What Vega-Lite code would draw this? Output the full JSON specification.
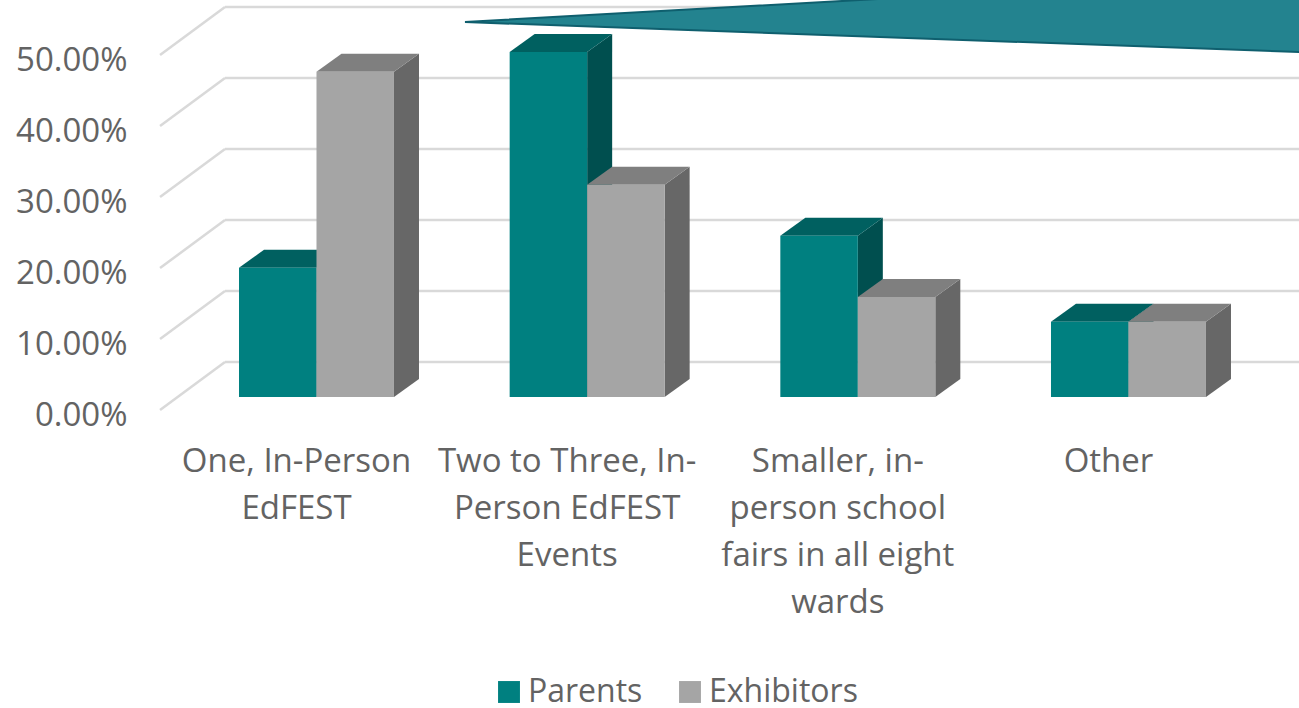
{
"$schema":"https://vega.github.io/schema/vega-lite/v6.json",
"width":1299,"height":708,
"autosize":{"type":"none"},
"padding":0,
"background":"white",
"config":{"view":{"stroke":null},"font":"Open Sans"},
"datasets":{
 "bars":[
  {"category":"One, In-Person EdFEST","idx":0,"series":"Parents","value":0.182},
  {"category":"One, In-Person EdFEST","idx":0,"series":"Exhibitors","value":0.458},
  {"category":"Two to Three, In-Person EdFEST Events","idx":1,"series":"Parents","value":0.486},
  {"category":"Two to Three, In-Person EdFEST Events","idx":1,"series":"Exhibitors","value":0.299},
  {"category":"Smaller, in-person school fairs in all eight wards","idx":2,"series":"Parents","value":0.227},
  {"category":"Smaller, in-person school fairs in all eight wards","idx":2,"series":"Exhibitors","value":0.141},
  {"category":"Other","idx":3,"series":"Parents","value":0.106},
  {"category":"Other","idx":3,"series":"Exhibitors","value":0.106}
 ],
 "ticks":[{"v":0},{"v":0.1},{"v":0.2},{"v":0.3},{"v":0.4},{"v":0.5}],
 "labels":[
  {"idx":0,"lines":["One, In-Person","EdFEST"]},
  {"idx":1,"lines":["Two to Three, In-","Person EdFEST","Events"]},
  {"idx":2,"lines":["Smaller, in-","person school","fairs in all eight","wards"]},
  {"idx":3,"lines":["Other"]}
 ],
 "callout":[
  {"px":0.5486,"top":0.5282,"bottom":0.5282},
  {"px":3.8,"top":0.5973,"bottom":0.4836}
 ]
},
"data":{"name":"bars"},
"layer":[
 {
  "data":{"name":"ticks"},
  "transform":[{"calculate":"datum.v+0.0493","as":"back"},{"calculate":"datum.v-0.0183","as":"front"},{"calculate":"-0.338","as":"x0"},{"calculate":"-0.578","as":"xf"},{"calculate":"3.63","as":"xe"}],
  "layer":[
   {"mark":{"type":"rule","color":"#d9d9d9","strokeWidth":2.5},
    "encoding":{"x":{"field":"x0","type":"quantitative","scale":{"domain":[-1.1693,3.63],"nice":false,"zero":false},"axis":null},"x2":{"field":"xe"},
      "y":{"field":"back","type":"quantitative","scale":{"domain":[-0.438,0.5592],"nice":false,"zero":false},
        "axis":{"values":[0,0.1,0.2,0.3,0.4,0.5],"format":".2%","orient":"left","offset":-127,"domain":false,"ticks":false,"grid":false,"title":null,"labelPadding":0,"labelFontSize":33,"labelColor":"#636363","labelOffset":18,"labelFont":"Open Sans"}}}},
   {"mark":{"type":"rule","color":"#d9d9d9","strokeWidth":2.5},
    "encoding":{"x":{"field":"xf","type":"quantitative"},"x2":{"field":"x0"},"y":{"field":"front","type":"quantitative"},"y2":{"field":"back"}}}
  ]
 },
 {
  "transform":[
   {"calculate":"datum.series==='Parents'?datum.idx-0.2863:datum.idx","as":"xl"},
   {"calculate":"datum.xl+0.2863","as":"xr"},
   {"calculate":"[{f:'side',x:datum.xr,y:datum.value,y2:0},{f:'side',x:datum.xr+0.0924,y:datum.value+0.02535,y2:0.02535},{f:'top',x:datum.xl,y:datum.value,y2:datum.value},{f:'top',x:datum.xl+0.0924,y:datum.value+0.02535,y2:datum.value},{f:'top',x:datum.xr,y:datum.value+0.02535,y2:datum.value},{f:'top',x:datum.xr+0.0924,y:datum.value+0.02535,y2:datum.value+0.02535}]","as":"verts"},
   {"flatten":["verts"]},
   {"calculate":"datum.verts.f","as":"f"},
   {"calculate":"datum.verts.x","as":"vx"},
   {"calculate":"datum.verts.y","as":"vy"},
   {"calculate":"datum.verts.y2","as":"vy2"}
  ],
  "mark":{"type":"area","interpolate":"linear"},
  "encoding":{
   "x":{"field":"vx","type":"quantitative"},
   "y":{"field":"vy","type":"quantitative"},
   "y2":{"field":"vy2"},
   "detail":[{"field":"category"},{"field":"series"},{"field":"f"}],
   "color":{"condition":[
     {"test":"datum.f==='side'&&datum.series==='Parents'","value":"#004f4f"},
     {"test":"datum.f==='top'&&datum.series==='Parents'","value":"#006060"},
     {"test":"datum.f==='side'&&datum.series==='Exhibitors'","value":"#676767"}
    ],"value":"#7f7f7f"}
  }
 },
 {
  "transform":[
   {"calculate":"datum.series==='Parents'?datum.idx-0.2863:datum.idx","as":"xl"},
   {"calculate":"datum.xl+0.2863","as":"xr"},
   {"calculate":"0","as":"base"}
  ],
  "mark":{"type":"rect"},
  "encoding":{
   "x":{"field":"xl","type":"quantitative"},
   "x2":{"field":"xr"},
   "y":{"field":"value","type":"quantitative"},
   "y2":{"field":"base"},
   "color":{"field":"series","type":"nominal","scale":{"domain":["Parents","Exhibitors"],"range":["#008080","#a5a5a5"]},
     "legend":{"title":null,"orient":"none","legendX":493,"legendY":676,"direction":"horizontal","symbolType":"square","symbolSize":480,"symbolStrokeWidth":0,"labelFontSize":32,"labelColor":"#636363","labelFont":"Open Sans","columnPadding":31,"labelOffset":3}}
  }
 },
 {
  "data":{"name":"labels"},
  "mark":{"type":"text","align":"center","baseline":"top","dx":-20,"fontSize":33,"lineHeight":47,"color":"#636363","font":"Open Sans"},
  "encoding":{
   "x":{"field":"idx","type":"quantitative"},
   "y":{"datum":-0.0685},
   "text":{"field":"lines"}
  }
 },
 {
  "data":{"name":"callout"},
  "mark":{"type":"area","color":"#23838f","stroke":"#0f5f6e","strokeWidth":2,"clip":true},
  "encoding":{
   "x":{"field":"px","type":"quantitative"},
   "y":{"field":"top","type":"quantitative"},
   "y2":{"field":"bottom"}
  }
 }
]
}
